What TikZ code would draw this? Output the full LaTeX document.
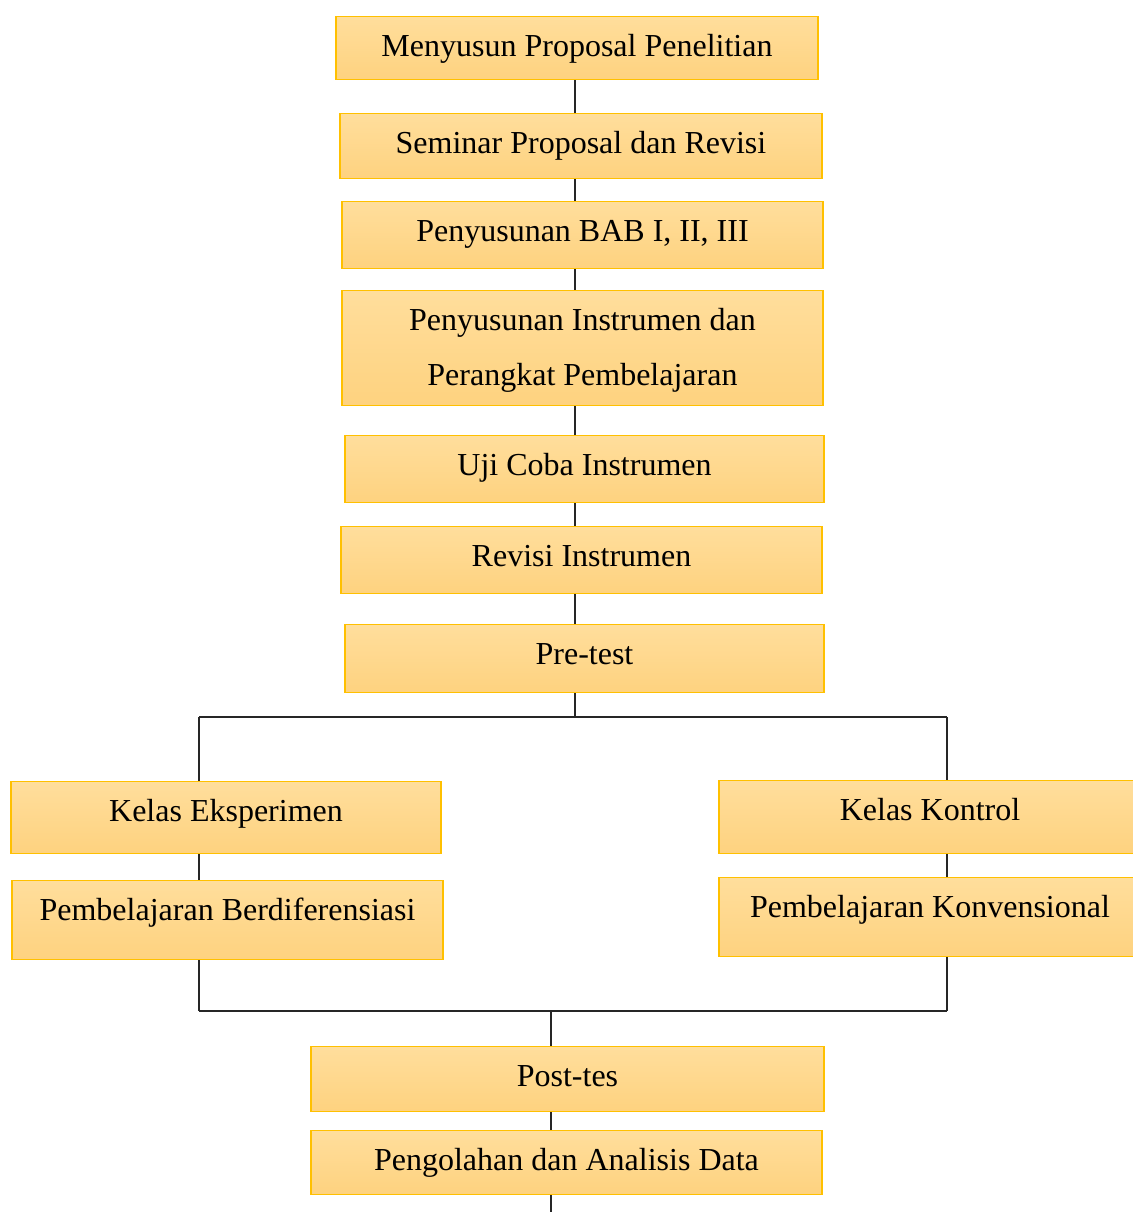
\documentclass[tikz,border=0pt]{standalone}
\usepackage{fontspec}
\setmainfont{Liberation Serif}
\usetikzlibrary{positioning,calc}
\definecolor{boxtop}{HTML}{FFDE9C}
\definecolor{boxbot}{HTML}{FED27F}
\definecolor{boxline}{HTML}{FFC000}

\begin{document}
\begin{tikzpicture}[x=0.5pt, y=-0.5pt,
  stepbox/.style={draw=boxline, line width=0.7pt, top color=boxtop, bottom color=boxbot,
             anchor=north, inner ysep=0pt, text height=20pt, align=center,
             font=\fontsize{16}{27.5}\selectfont},
  link/.style={black!85, line width=0.6pt},
]
\useasboundingbox (0,0) rectangle (1132,1212);

% main column
\node[stepbox, minimum width=241pt, text depth=11.5pt] (menyusun)  at (577,16)  {Menyusun Proposal Penelitian};
\node[stepbox, minimum width=241pt, text depth=12.5pt] (seminar)   at (581,113) {Seminar Proposal dan Revisi};
\node[stepbox, minimum width=240.5pt, text depth=13.5pt] (bab)     at (582.5,201) {Penyusunan BAB I, II, III};
\node[stepbox, minimum width=240.5pt, text height=47.5pt, text depth=10pt] (instrumen) at (582.5,290) {Penyusunan Instrumen dan\\Perangkat Pembelajaran};
\node[stepbox, minimum width=239.5pt, text depth=13.5pt] (uji)     at (584.5,435) {Uji Coba Instrumen};
\node[stepbox, minimum width=240.5pt, text depth=13.5pt] (revisi)  at (581.5,526) {Revisi Instrumen};
\node[stepbox, minimum width=239.5pt, text depth=14pt] (pretest)   at (584.5,624) {Pre-test};

% two classes
\node[stepbox, minimum width=215pt, text depth=16pt] (eksperimen)  at (226,781) {Kelas Eksperimen};
\node[stepbox, minimum width=215.5pt, text depth=19.5pt] (berdif)  at (227.5,880) {Pembelajaran Berdiferensiasi};
\node[stepbox, minimum width=211pt, text depth=16.5pt] (kontrol)   at (930,780) {Kelas Kontrol};
\node[stepbox, minimum width=211pt, text depth=19.5pt] (konvensional) at (930,877) {Pembelajaran Konvensional};

% closing steps
\node[stepbox, minimum width=256.5pt, text depth=12.5pt] (posttes)    at (567.5,1046) {Post-tes};
\node[stepbox, minimum width=255.5pt, text depth=12pt] (pengolahan)   at (566.5,1130) {Pengolahan dan Analisis Data};

\coordinate (spine) at (575,0);
\coordinate (splitL) at (199,717);
\coordinate (splitR) at (947,717);
\coordinate (joinL) at (199,1011);
\coordinate (joinR) at (947,1011);
\coordinate (joinM) at (551,1011);
\coordinate (tail) at (551,1212);

\draw[link] (menyusun.south -| spine) -- (seminar.north -| spine);
\draw[link] (seminar.south -| spine) -- (bab.north -| spine);
\draw[link] (bab.south -| spine) -- (instrumen.north -| spine);
\draw[link] (instrumen.south -| spine) -- (uji.north -| spine);
\draw[link] (uji.south -| spine) -- (revisi.north -| spine);
\draw[link] (revisi.south -| spine) -- (pretest.north -| spine);
\draw[link] (pretest.south -| spine) -- (splitL -| spine);
\draw[link] (splitL) -- (splitR);
\draw[link] (splitL) -- (eksperimen.north -| splitL);
\draw[link] (eksperimen.south -| splitL) -- (berdif.north -| splitL);
\draw[link] (berdif.south -| splitL) -- (joinL);
\draw[link] (splitR) -- (kontrol.north -| splitR);
\draw[link] (kontrol.south -| splitR) -- (konvensional.north -| splitR);
\draw[link] (konvensional.south -| splitR) -- (joinR);
\draw[link] (joinL) -- (joinR);
\draw[link] (joinM) -- (posttes.north -| joinM);
\draw[link] (posttes.south -| joinM) -- (pengolahan.north -| joinM);
\draw[link] (pengolahan.south -| joinM) -- (tail);
\end{tikzpicture}
\end{document}
